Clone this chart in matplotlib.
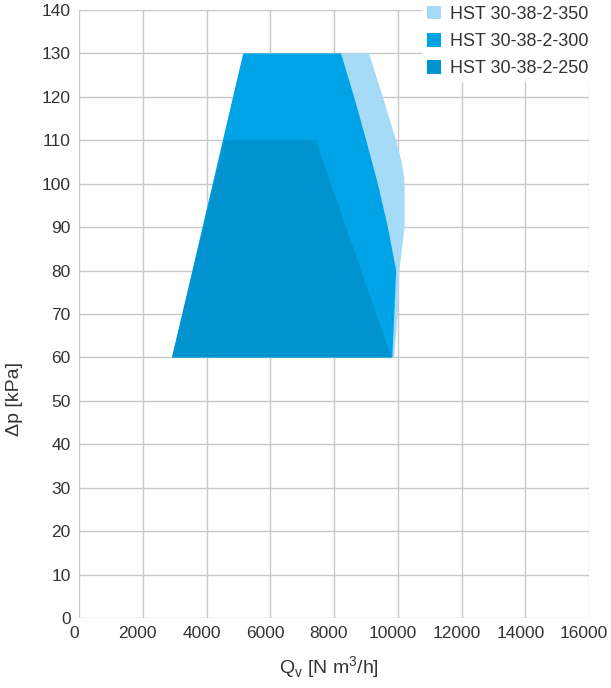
import matplotlib
matplotlib.use("Agg")
import matplotlib.pyplot as plt
from matplotlib.patches import Patch
from matplotlib.transforms import ScaledTranslation

plt.rcParams['font.family'] = ['Liberation Sans', 'DejaVu Sans']

series = ["HST 30-38-2-350", "HST 30-38-2-300", "HST 30-38-2-250"]
colors = ["#a6dbf7", "#00a3e6", "#0093cf"]

# envelope outlines (flow in N m3/h, pressure drop in kPa)
q_350 = [2920, 5155, 9100, 9530, 9950, 10120, 10190, 10215, 10215, 10050, 10000, 9890]
p_350 = [60, 130, 130, 120, 110, 105, 102, 100, 90, 80, 70, 60]

q_300 = [2920, 5155, 8220, 8630, 9010, 9375, 9690, 9950, 9890, 9830]
p_300 = [60, 130, 130, 120, 110, 100, 90, 80, 70, 60]

q_250 = [2920, 4570, 7430, 9800]
p_250 = [60, 110, 110, 60]

fig = plt.figure(figsize=(6.11, 6.88), dpi=100)
ax = fig.add_axes([79/611, 1-618/688, 510/611, 608/688])

for q, p, c in zip([q_350, q_300, q_250], [p_350, p_300, p_250], colors):
    ax.fill(q, p, color=c, lw=0, zorder=2)

ax.set_xlim(0, 16000)
ax.set_ylim(0, 140)
ax.set_xticks(range(0, 16001, 2000))
ax.set_yticks(range(0, 141, 10))
ax.grid(True, color="#c8c8c8", lw=1, zorder=0)
ax.set_axisbelow(True)
for s in ax.spines.values():
    s.set_visible(False)
ax.tick_params(length=0, labelsize=12.5, colors="#333333", pad=6)
# shift x tick labels slightly left, as in the reference
shift = ScaledTranslation(-5/100, 0, fig.dpi_scale_trans)
for lab in ax.get_xticklabels():
    lab.set_transform(lab.get_transform() + shift)

ax.set_xlabel(r'Q$_\mathregular{v}$ [N m$^\mathregular{3}$/h]', fontsize=14, color="#333333")
ax.xaxis.set_label_coords(0.49, -0.06)
ax.set_ylabel(r'Δp [kPa]', fontsize=14, color="#333333")
ax.yaxis.set_label_coords(-0.11, 0.36)

handles = [Patch(facecolor=c, edgecolor='none', label=s) for s, c in zip(series, colors)]
leg = fig.legend(handles=handles, loc='upper right', bbox_to_anchor=(598/611, 1.005),
                 frameon=True, fontsize=13, handlelength=0.8, handleheight=0.8,
                 handletextpad=0.5, labelspacing=0.55, borderaxespad=0.2, borderpad=0.3)
leg.get_frame().set_facecolor('white')
leg.get_frame().set_edgecolor('none')
leg.get_frame().set_alpha(1)
for t in leg.get_texts():
    t.set_color("#333333")

fig.savefig("out.png", dpi=100)
